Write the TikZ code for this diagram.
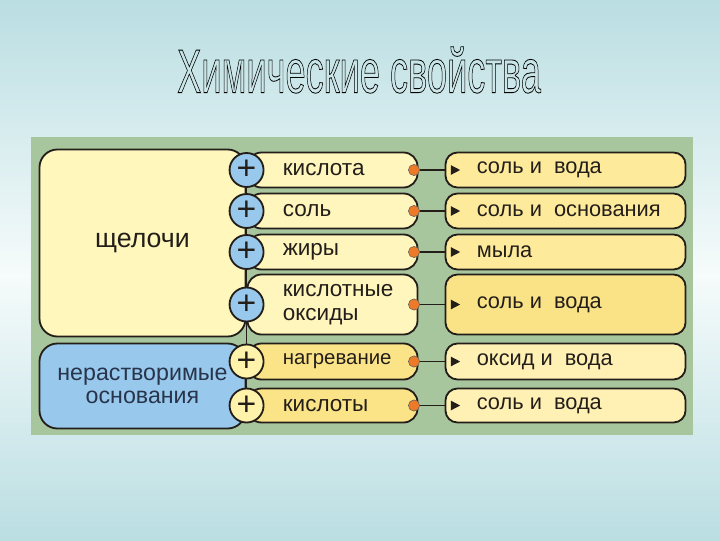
\documentclass[tikz,border=0pt]{standalone}
\usepackage{fontspec}
\setmainfont{Liberation Sans}
\usetikzlibrary{calc}
\definecolor{SkyTeal}{RGB}{186, 222, 226}
\definecolor{SkyPale}{RGB}{246, 251, 251}
\definecolor{PanelGreen}{RGB}{168, 198, 158}
\definecolor{AlkaliYellow}{RGB}{255, 247, 188}
\definecolor{BaseBlue}{RGB}{152, 201, 236}
\definecolor{PillLight}{RGB}{255, 246, 190}
\definecolor{PillDark}{RGB}{250, 228, 135}
\definecolor{CircleYellow}{RGB}{255, 243, 172}
\definecolor{ResultUpper}{RGB}{253, 234, 155}
\definecolor{ResultDeep}{RGB}{250, 227, 135}
\definecolor{ResultLower}{RGB}{255, 241, 180}
\definecolor{DotOrange}{RGB}{236, 122, 40}
\definecolor{InkDark}{RGB}{35, 30, 25}
\definecolor{BaseInk}{RGB}{40, 52, 75}
% outlined letters: stroke the glyphs instead of filling them
\newcommand{\outlined}[1]{\special{pdf:literal direct 1 Tr 0.6 w}#1\special{pdf:literal direct 0 Tr}}

\begin{document}
\begin{tikzpicture}[x=0.025cm, y=-0.025cm,
    box/.style={draw=InkDark, line width=1.3pt, inner sep=0pt},
    alkali/.style={box, rounded corners=0.45cm, minimum width=5.15cm},
    reagent/.style={box, rounded corners=0.35cm, minimum width=4.25cm},
    product/.style={box, rounded corners=0.3cm, minimum width=6.0cm},
    plusmark/.style={circle, draw=InkDark, line width=1.3pt, minimum size=0.85cm,
                     inner sep=0pt, text=InkDark, font=\fontsize{24}{24}\selectfont},
    joint/.style={circle, fill=DotOrange, draw=InkDark!70, line width=0.4pt,
                  minimum size=0.28cm, inner sep=0pt},
    link/.style={InkDark, line width=1.2pt},
    reagtext/.style={anchor=west, inner sep=0pt, align=left, text=InkDark,
                     font=\fontsize{16}{17}\selectfont},
    prodtext/.style={reagtext, font=\fontsize{15.5}{17}\selectfont}]
    \useasboundingbox (0,0) rectangle (720,540);

    % Background: pale band across the middle
    \shade[top color=SkyTeal, bottom color=SkyPale] (0,0) rectangle (720,275);
    \shade[top color=SkyPale, bottom color=SkyTeal] (0,275) rectangle (720,540);

    % Title, outlined letters
    \node[xscale=0.585, text=black, font=\fontsize{44}{44}\selectfont] (title) at (359,70)
        {\outlined{Химические свойства}};

    % Green panel
    \fill[PanelGreen] (31,137) rectangle (693,435);

    % The two classes of bases
    \node[alkali, fill=AlkaliYellow, minimum height=4.675cm, text=InkDark,
          font=\fontsize{19}{20}\selectfont] (alkali) at (142.5,243) {щелочи};
    \node[alkali, fill=BaseBlue, minimum height=2.125cm, align=center, text=BaseInk,
          font=\fontsize{16.5}{16}\selectfont] (insol) at (142.5,386)
        {нерастворимые\\основания};

    % One row per reaction: reagent pill, orange joint, product box
    \foreach \i/\y/\h/\pcol/\rcol/\reag/\prod in {
        1/170/0.875cm/PillLight/ResultUpper/{кислота}/{соль и~~вода},
        2/211/0.875cm/PillLight/ResultUpper/{соль}/{соль и~~основания},
        3/252/0.875cm/PillLight/ResultUpper/{жиры}/{мыла},
        4/304.5/1.5cm/PillLight/ResultDeep/{кислотные\\оксиды}/{соль и~~вода},
        5/361.5/0.9cm/PillDark/ResultLower/{\fontsize{14.5}{16}\selectfont нагревание}/{оксид и~~вода},
        6/405.5/0.85cm/PillDark/ResultLower/{кислоты}/{соль и~~вода}} {
        \node[reagent, fill=\pcol, minimum height=\h] (p\i) at (332.5,\y) {};
        \node[reagtext] (pt\i) at ([xshift=0.9cm]p\i.west) {\reag};
        \node[product, fill=\rcol, minimum height=\h] (r\i) at (565.5,\y) {};
        \node[prodtext] (rt\i) at ([xshift=0.8cm]r\i.west) {\prod};
        \node[joint] (d\i) at (414,\y) {};
        \draw[link] (d\i) -- (r\i.west);
        % small pointer inside the product box
        \fill[InkDark] ([xshift=0.16cm, yshift=0.12cm]r\i.west) -- ++(0.23cm,-0.12cm)
            -- ++(-0.23cm,-0.12cm) -- cycle;
    }

    % Stem behind the plus signs
    \draw[link, line width=1.3pt] (p1.west) -- (p6.west);

    % Plus signs
    \foreach \i/\ccol in {1/BaseBlue, 2/BaseBlue, 3/BaseBlue, 4/BaseBlue,
                          5/CircleYellow, 6/CircleYellow} {
        \node[plusmark, fill=\ccol] (c\i) at (p\i.west) {+};
    }
\end{tikzpicture}
\end{document}
